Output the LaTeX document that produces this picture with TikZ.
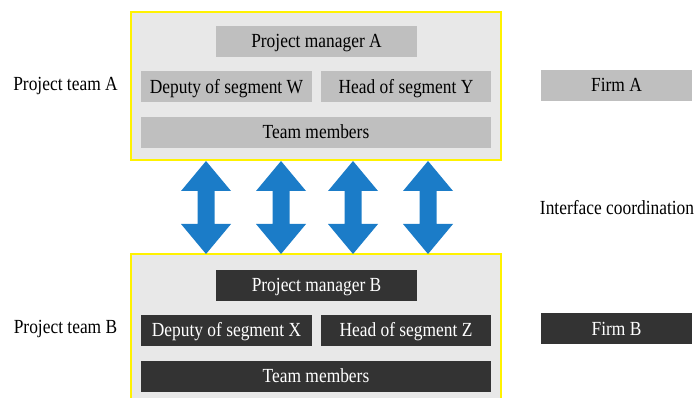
\documentclass[tikz,border=0pt]{standalone}
\usepackage{fontspec}
\setmainfont[FakeStretch=0.87]{Liberation Serif}
\usetikzlibrary{positioning}

\definecolor{panelgray}{HTML}{E8E8E8}
\definecolor{lightbox}{HTML}{BFBFBF}
\definecolor{darkbox}{HTML}{333333}
\definecolor{arrowblue}{HTML}{1B7CC8}

\tikzset{
	team/.style={draw=yellow, line width=1.5pt, fill=panelgray, minimum width=277.5pt, minimum height=111pt, inner sep=0pt},
	role/.style={inner sep=0pt, minimum height=23.25pt, text height=11.5pt, text depth=1.8pt, font=\fontsize{15}{18}\selectfont},
	roleA/.style={role, fill=lightbox, text=black},
	roleB/.style={role, fill=darkbox, text=white},
	label/.style={inner sep=0pt, font=\fontsize{15}{18}\selectfont}
}

\begin{document}
\begin{tikzpicture}[x=0.75pt, y=-0.75pt]
	\useasboundingbox (0,0) rectangle (695,398);

	% team A
	\node[team] (teamA) at (316,86) {};
	\node[roleA, minimum width=150.75pt] (pmA) at (316.5,41.5) {Project manager A};
	\node[roleA, minimum width=128.25pt] (depW) at (226.5,87) {Deputy of segment W};
	\node[roleA, minimum width=127.5pt] (headY) at (406,87) {Head of segment Y};
	\node[roleA, minimum width=262.5pt] (memA) at (316,132.5) {Team members};

	% team B
	\node[team] (teamB) at (316,328) {};
	\node[roleB, minimum width=150.75pt] (pmB) at (316.5,285.5) {Project manager B};
	\node[roleB, minimum width=128.25pt] (depX) at (226.5,330.5) {Deputy of segment X};
	\node[roleB, minimum width=127.5pt] (headZ) at (406,330.5) {Head of segment Z};
	\node[roleB, minimum width=262.5pt] (memB) at (316,376.5) {Team members};

	% side labels
	\node[label] (lblA) at (65.5,86) {Project team A};
	\node[label] (lblB) at (65.5,329) {Project team B};
	\node[roleA, minimum width=113.25pt] (firmA) at (616.5,85.5) {Firm A};
	\node[roleB, minimum width=113.25pt] (firmB) at (616.5,329) {Firm B};
	\node[label] (iface) at (617,208) {Interface coordination};

	% double arrows between the teams
	\foreach \cx in {206,281,353,428}{
		\fill[arrowblue] (\cx,161) -- (\cx+25,191) -- (\cx+8.5,191) -- (\cx+8.5,224)
			-- (\cx+25,224) -- (\cx,254) -- (\cx-25,224) -- (\cx-8.5,224)
			-- (\cx-8.5,191) -- (\cx-25,191) -- cycle;
	}
\end{tikzpicture}
\end{document}
